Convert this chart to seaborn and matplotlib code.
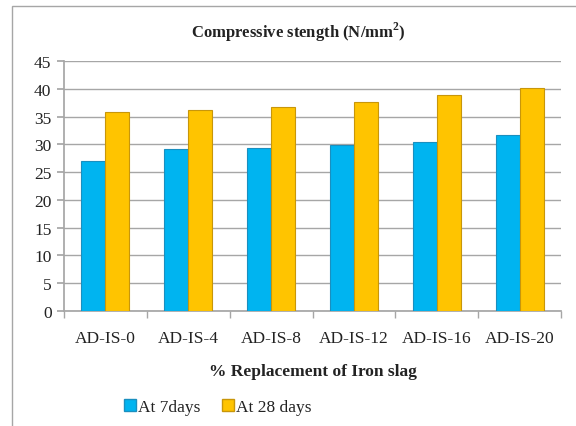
import numpy as np
import pandas as pd
import matplotlib.pyplot as plt
import seaborn as sns
from matplotlib.patches import Rectangle, Patch
from matplotlib.ticker import FixedLocator

# --- data ---
mixes = ["AD-IS-0", "AD-IS-4", "AD-IS-8", "AD-IS-12", "AD-IS-16", "AD-IS-20"]
day7 = [27.0, 29.2, 29.3, 29.9, 30.5, 31.6]
day28 = [35.8, 36.1, 36.8, 37.6, 38.8, 40.2]
series_names = ["At 7days", "At 28 days"]
colors = ["#00B4F0", "#FFC400"]
edges = ["#1A8FBF", "#C8960A"]

df = pd.DataFrame({
    "Mix": mixes * 2,
    "Strength": day7 + day28,
    "Age": [series_names[0]] * len(mixes) + [series_names[1]] * len(mixes),
})

sns.set_theme(style="white")
plt.rcParams["font.family"] = ["Liberation Serif", "DejaVu Serif"]

fig = plt.figure(figsize=(5.76, 4.27), dpi=100)
ax = fig.add_axes([64 / 576, 1 - 312 / 427, (561 - 64) / 576, (312 - 62) / 427])

sns.barplot(data=df, x="Mix", y="Strength", hue="Age", palette=colors,
            saturation=1, width=0.58, gap=0, ax=ax, legend=False, zorder=3)

for i, cont in enumerate(ax.containers):
    for bar in cont:
        bar.set_edgecolor(edges[i])
        bar.set_linewidth(0.8)

ax.set_ylim(0, 45)
ax.set_xlim(-0.5, len(mixes) - 0.5)
ax.set_yticks(np.arange(0, 46, 5))
ax.yaxis.grid(True, color="#A6A6A6", linewidth=1, zorder=0)
ax.set_axisbelow(True)

for s in ["top", "right"]:
    ax.spines[s].set_visible(False)
ax.spines["left"].set_color("#A6A6A6")
ax.spines["bottom"].set_color("#A6A6A6")

ax.tick_params(axis="y", which="major", left=True, length=5, color="#A6A6A6",
               labelsize=12.5, pad=4, labelcolor="#222222")
ax.tick_params(axis="x", which="major", bottom=False, labelsize=12.5, pad=8,
               labelcolor="#222222")
ax.xaxis.set_minor_locator(FixedLocator(np.arange(-0.5, len(mixes), 1)))
ax.tick_params(axis="x", which="minor", bottom=True, length=5, color="#A6A6A6")

ax.set_xlabel("% Replacement of Iron slag", fontsize=12.5, fontweight="bold",
              labelpad=12, color="#222222")
ax.set_ylabel("")

fig.text(298 / 576, 1 - 32 / 427, "Compressive stength (N/mm$^\\mathregular{2}$)",
         ha="center", va="center", fontsize=12, fontweight="bold", color="#222222")

handles = [Patch(facecolor=colors[i], edgecolor=edges[i], label=series_names[i])
           for i in range(2)]
fig.legend(handles=handles, loc="center left", bbox_to_anchor=(108 / 576, 1 - 408 / 427),
           ncol=2, frameon=False, fontsize=12.5, handlelength=0.7, handleheight=0.7,
           handletextpad=0.15, columnspacing=1.2, labelcolor="#222222")

# outer chart frame
fig.patches.append(Rectangle((12 / 576, -0.05), 1.0, 1 - 7 / 427 + 0.05,
                             transform=fig.transFigure, fill=False,
                             edgecolor="#A6A6A6", linewidth=1))

fig.savefig("out.png", dpi=100)
